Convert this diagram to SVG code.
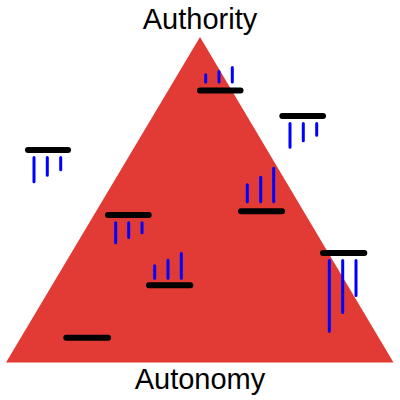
<svg xmlns="http://www.w3.org/2000/svg" width="400" height="400" viewBox="0 0 400 400">
<style>
.bar{stroke:#000;stroke-width:6;stroke-linecap:round;fill:none}
.tick{stroke:#0000ff;stroke-width:3;stroke-linecap:round;fill:none}
.lbl{font-family:"Liberation Sans",Arial,sans-serif;font-size:29px;fill:#000;text-anchor:middle}
</style>
<rect width="400" height="400" fill="#fff"/>
<polygon id="triangle" points="200,37 6,362.5 393.5,362.5" fill="#e23b36"/>
<text class="lbl" x="200" y="29">Authority</text>
<text class="lbl" x="200" y="389">Autonomy</text>
<g id="n1"><line class="bar" x1="200" y1="90.5" x2="240.5" y2="90.5"/><path class="tick" d="M205.7 82V74.8M219 82V71.5M232.3 82V67.5"/></g>
<g id="n2"><line class="bar" x1="282.3" y1="116" x2="323" y2="116"/><path class="tick" d="M290 123.5V147.2M303.3 123.5V140.8M316.7 123.5V135.2"/></g>
<g id="n3"><line class="bar" x1="28" y1="150" x2="68" y2="150"/><path class="tick" d="M34 157.5V181.8M47.3 157.5V175.2M60.7 157.5V169.8"/></g>
<g id="n4"><line class="bar" x1="108" y1="215" x2="148.7" y2="215"/><path class="tick" d="M115.7 222.8V242.8M128.7 222.8V237.5M142 222.8V232.8"/></g>
<g id="n5"><line class="bar" x1="241" y1="211.3" x2="282" y2="211.3"/><path class="tick" d="M247.3 201.8V184.8M260.7 201.8V177.2M273.7 201.8V168.2"/></g>
<g id="n6"><line class="bar" x1="149" y1="285.2" x2="190.3" y2="285.2"/><path class="tick" d="M154.7 278.2V265.8M168 278.2V260.2M181.3 278.2V253.5"/></g>
<g id="n7"><line class="bar" x1="323" y1="253" x2="364.3" y2="253"/><path class="tick" d="M329.3 260.5V331.2M342.7 260.5V312.5M356 260.5V295.5"/></g>
<g id="n8"><line class="bar" x1="66.3" y1="337.7" x2="108" y2="337.7"/></g>
<g id="connectors"></g>
</svg>
